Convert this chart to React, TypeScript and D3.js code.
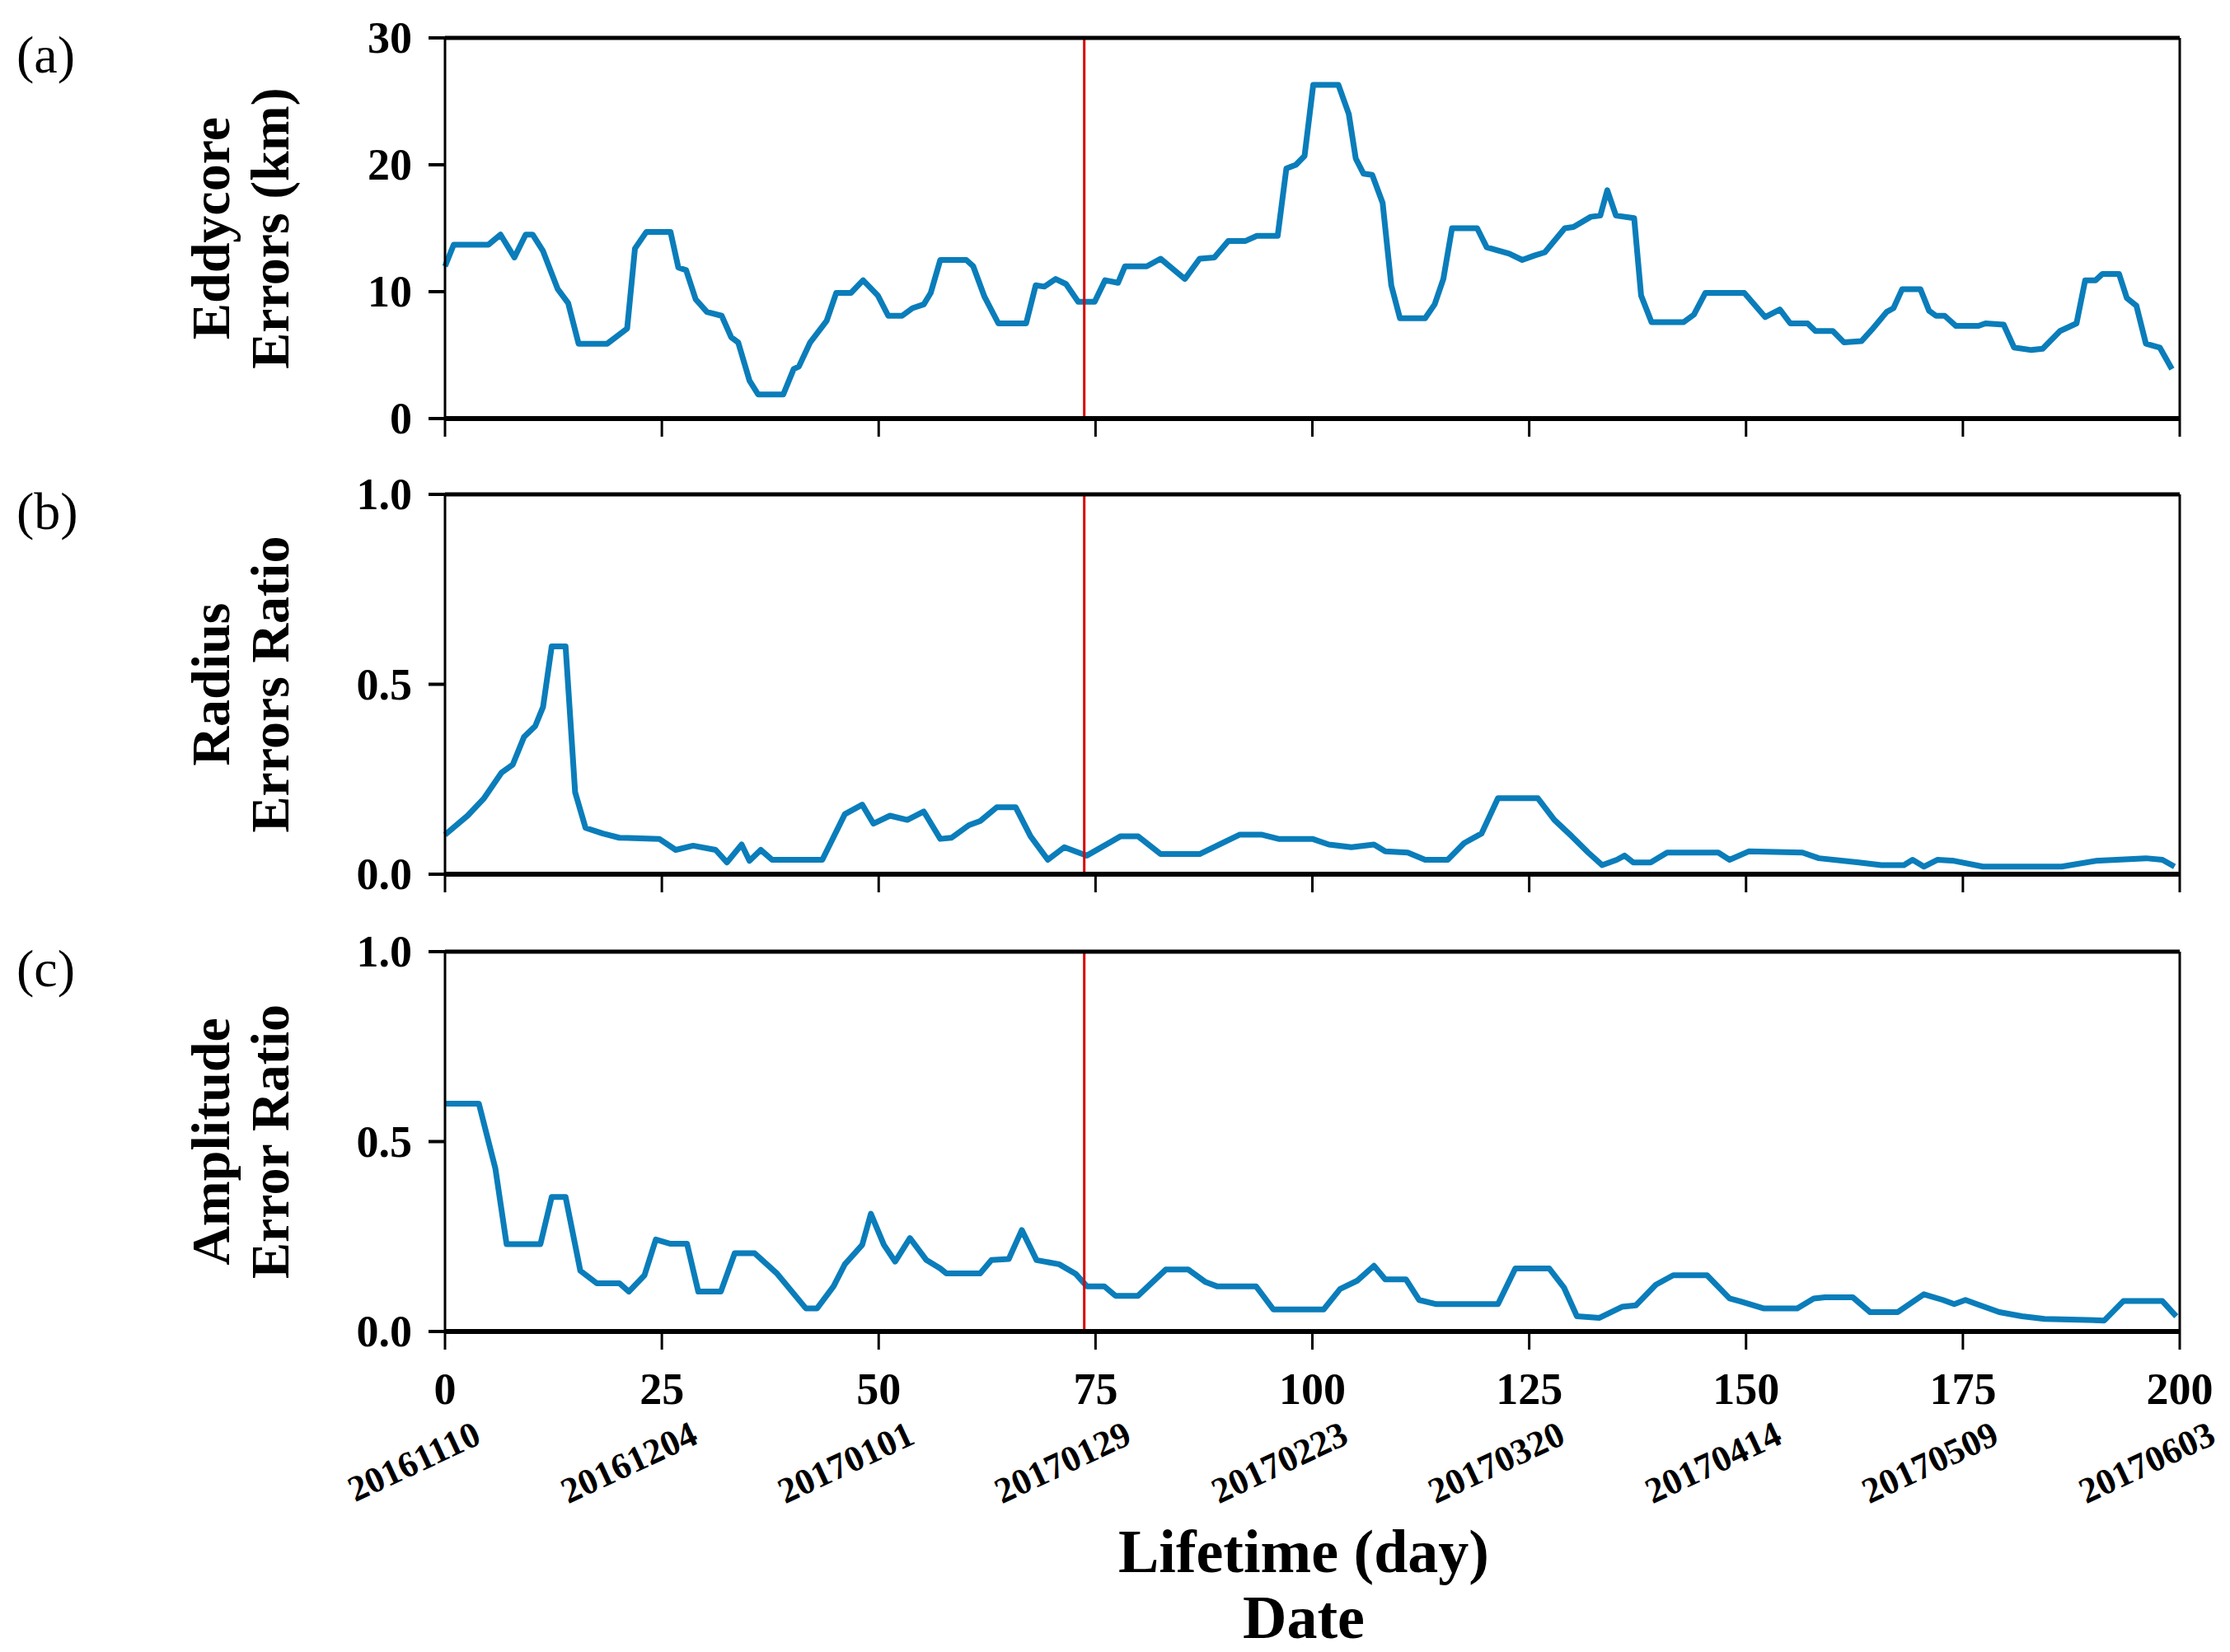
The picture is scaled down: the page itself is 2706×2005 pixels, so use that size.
import * as d3 from 'd3'

const W = 2706
const H = 2005

// day / value pairs
const coreDays = [0,1,5,6.4,8,9.3,10.1,11.3,13,14.2,15.4,18.7,21,21.9,23.2,26,26.9,27.8,28.9,30.2,31.9,33,33.8,35.1,36.1,39,40.2,40.8,42.1,44,45.1,46.8,48.2,49.9,51.1,52.7,53.9,55.2,56,57.1,60.1,60.9,62.2,63.8,67,68.1,69.1,70.4,71.6,73,74.9,76.1,77.6,78.4,80.9,82.5,85.3,87,88.7,90.3,92.3,93.6,96,97,98.1,99.1,100.1,103,104.2,105,105.9,106.9,108.1,109.1,110.1,113,114.1,115.1,116.1,119,120.1,122.7,124.2,125.6,126.8,129.1,130.1,132.1,133.2,134,135,137.1,137.9,139.1,142.8,144,145.3,149.8,152.2,153.9,155.1,157.1,158,160,161.3,163.3,164.5,166.2,167,168,170.1,171.1,171.9,172.9,174.2,176.8,177.6,179.7,180.9,182.9,184.2,186.2,188.1,189.1,190.3,191.1,193,193.9,195,196.1,197.7,199.1]
const coreErr = [12,13.7,13.7,14.5,12.7,14.5,14.5,13.2,10.2,9.1,5.9,5.9,7.1,13.4,14.7,14.7,11.9,11.7,9.4,8.4,8.1,6.4,6,3,1.9,1.9,3.9,4.1,6,7.7,9.9,9.9,10.9,9.7,8.1,8.1,8.7,9,9.9,12.5,12.5,12,9.6,7.5,7.5,10.5,10.4,11,10.6,9.2,9.2,10.9,10.7,12,12,12.6,11,12.6,12.7,14,14,14.4,14.4,19.7,20,20.7,26.3,26.3,24,20.5,19.3,19.2,17,10.5,7.9,7.9,9,11,15,15,13.5,13,12.5,12.85,13.1,15,15.1,15.9,16,18,16,15.8,9.7,7.6,7.6,8.2,9.9,9.9,8,8.6,7.5,7.5,6.9,6.9,6,6.1,7,8.4,8.7,10.2,10.2,8.5,8.1,8.1,7.3,7.3,7.5,7.4,5.6,5.4,5.5,6.9,7.5,10.9,10.9,11.4,11.4,9.5,8.9,5.9,5.6,3.9]

const radiusDays = [0,2.6,4.5,6.5,7.8,9.1,10.4,11.3,12.3,13.9,15,16.2,18.2,20.1,24.7,26.6,28.6,31.2,32.5,34.2,35.1,36.4,37.7,43.5,46.1,48.1,49.4,51.3,53.3,55.2,57.1,58.4,60.4,61.7,63.6,65.8,67.5,69.5,71.4,74,77.9,79.9,82.5,87,91.6,94.2,96.1,100,101.9,104.5,107.1,108.4,111,113,115.6,117.5,119.5,121.4,126,127.9,129.9,131.8,133.4,135.1,136,137,139,140.9,146.8,148.1,150.3,156.5,158.4,163,165.6,168.2,169.2,170.5,172.1,174,177.3,186.4,190.3,196.1,198,199.4]
const radiusErr = [.104,.154,.2,.267,.288,.361,.39,.44,.6,.6,.216,.122,.107,.096,.093,.064,.075,.064,.031,.078,.035,.064,.038,.038,.158,.183,.133,.154,.143,.165,.093,.096,.129,.14,.176,.176,.1,.038,.071,.049,.1,.1,.053,.053,.104,.104,.093,.093,.078,.071,.078,.06,.057,.038,.038,.082,.107,.2,.2,.143,.1,.057,.024,.038,.049,.031,.031,.057,.057,.038,.06,.057,.042,.031,.024,.024,.038,.02,.038,.035,.02,.02,.035,.042,.038,.02]

const ampDays = [0,3.9,5.8,7.1,11,12.3,13.9,15.6,17.5,20.1,21.2,23,24.3,26,27.9,29.2,31.8,33.4,35.7,38.3,41.6,42.9,44.8,46.1,48.1,49.1,50.6,51.9,53.6,55.5,57.1,57.8,61.7,63,65,66.5,68.2,70.8,72.7,74,76,77.3,79.9,83.1,85.7,87.7,89,93.5,95.5,101.3,103.2,105.2,107.1,108.4,110.8,112.3,114.3,121.4,123.4,127.3,129,130.5,133.1,135.7,137.3,139.6,141.6,145.5,148.1,149.4,152,155.9,157.8,159.1,162.3,164.3,167.5,170.5,172.7,174,175.3,176.6,179.2,181.8,184.4,191.3,193.5,198,199.6]
const ampErr = [.6,.6,.43,.23,.23,.354,.354,.16,.127,.127,.105,.148,.242,.231,.231,.105,.105,.206,.206,.152,.061,.061,.119,.177,.228,.31,.228,.184,.246,.188,.166,.153,.153,.188,.191,.267,.188,.177,.152,.119,.119,.094,.094,.163,.163,.13,.119,.119,.058,.058,.112,.134,.173,.137,.137,.083,.072,.072,.166,.166,.116,.04,.036,.065,.069,.123,.148,.148,.087,.079,.061,.061,.087,.09,.09,.051,.051,.098,.083,.072,.083,.072,.051,.04,.033,.029,.08,.08,.04]

const dayTicks = [0, 25, 50, 75, 100, 125, 150, 175, 200]
const dateLabels = ['20161110','20161204','20170101','20170129','20170223','20170320','20170414','20170509','20170603']
const splitDay = 73.7

const panels = [
  { tag: '(a)', lines: ['Eddycore', 'Errors (km)'], days: coreDays, vals: coreErr, max: 30, ticks: [0, 10, 20, 30], fmt: (v: number) => String(v), top: 46, bottom: 508 },
  { tag: '(b)', lines: ['Radius', 'Errors Ratio'], days: radiusDays, vals: radiusErr, max: 1, ticks: [0, 0.5, 1], fmt: (v: number) => v.toFixed(1), top: 600, bottom: 1061 },
  { tag: '(c)', lines: ['Amplitude', 'Error Ratio'], days: ampDays, vals: ampErr, max: 1, ticks: [0, 0.5, 1], fmt: (v: number) => v.toFixed(1), top: 1155, bottom: 1616 },
]

const FONT = '"Liberation Serif", "Times New Roman", serif'
const LEFT = 540
const RIGHT = 2645

export default function App() {
  const x = d3.scaleLinear().domain([0, 200]).range([LEFT, RIGHT])
  const last = panels[2]

  return (
    <svg width={W} height={H} style={{ position: 'absolute', left: 0, top: 0, background: '#fff' }} fontFamily={FONT}>
      {panels.map((p, i) => {
        const y = d3.scaleLinear().domain([0, p.max]).range([p.bottom, p.top])
        const line = d3.line<number>().x((_, k) => x(p.days[k])).y(v => y(v))
        const midY = (p.top + p.bottom) / 2
        return (
          <g key={i}>
            <text x={20} y={p.top + 42} fontSize={64}>{p.tag}</text>
            <text transform={`translate(278,${midY}) rotate(-90)`} textAnchor="middle" fontSize={66} fontWeight="bold">{p.lines[0]}</text>
            <text transform={`translate(350,${midY}) rotate(-90)`} textAnchor="middle" fontSize={66} fontWeight="bold">{p.lines[1]}</text>
            {p.ticks.map(t => (
              <g key={t}>
                <line x1={LEFT - 20} x2={LEFT} y1={y(t)} y2={y(t)} stroke="#000" strokeWidth={4} />
                <text x={LEFT - 40} y={y(t) + 18} textAnchor="end" fontSize={54} fontWeight="bold">{p.fmt(t)}</text>
              </g>
            ))}
            {dayTicks.map(d => (
              <line key={d} x1={x(d)} x2={x(d)} y1={p.bottom} y2={p.bottom + 22} stroke="#000" strokeWidth={3} />
            ))}
            <path d={line(p.vals) || ''} fill="none" stroke="#0a7dba" strokeWidth={7} strokeLinejoin="round" />
            <line x1={x(splitDay)} x2={x(splitDay)} y1={p.top} y2={p.bottom} stroke="#d70000" strokeWidth={3} />
            <line x1={LEFT} x2={RIGHT} y1={p.top} y2={p.top} stroke="#000" strokeWidth={5} />
            <line x1={LEFT} x2={RIGHT} y1={p.bottom} y2={p.bottom} stroke="#000" strokeWidth={6} />
            <line x1={LEFT} x2={LEFT} y1={p.top} y2={p.bottom} stroke="#000" strokeWidth={3} />
            <line x1={RIGHT} x2={RIGHT} y1={p.top} y2={p.bottom} stroke="#000" strokeWidth={3} />
          </g>
        )
      })}
      {dayTicks.map((d, i) => (
        <g key={d}>
          <text x={x(d)} y={last.bottom + 88} textAnchor="middle" fontSize={54} fontWeight="bold">{d}</text>
          <text transform={`translate(${x(d) + 46},${last.bottom + 135}) rotate(-25)`} textAnchor="end" fontSize={44} fontWeight="bold">{dateLabels[i]}</text>
        </g>
      ))}
      <text x={1582} y={1908} textAnchor="middle" fontSize={74} fontWeight="bold">Lifetime (day)</text>
      <text x={1582} y={1988} textAnchor="middle" fontSize={74} fontWeight="bold">Date</text>
    </svg>
  )
}
